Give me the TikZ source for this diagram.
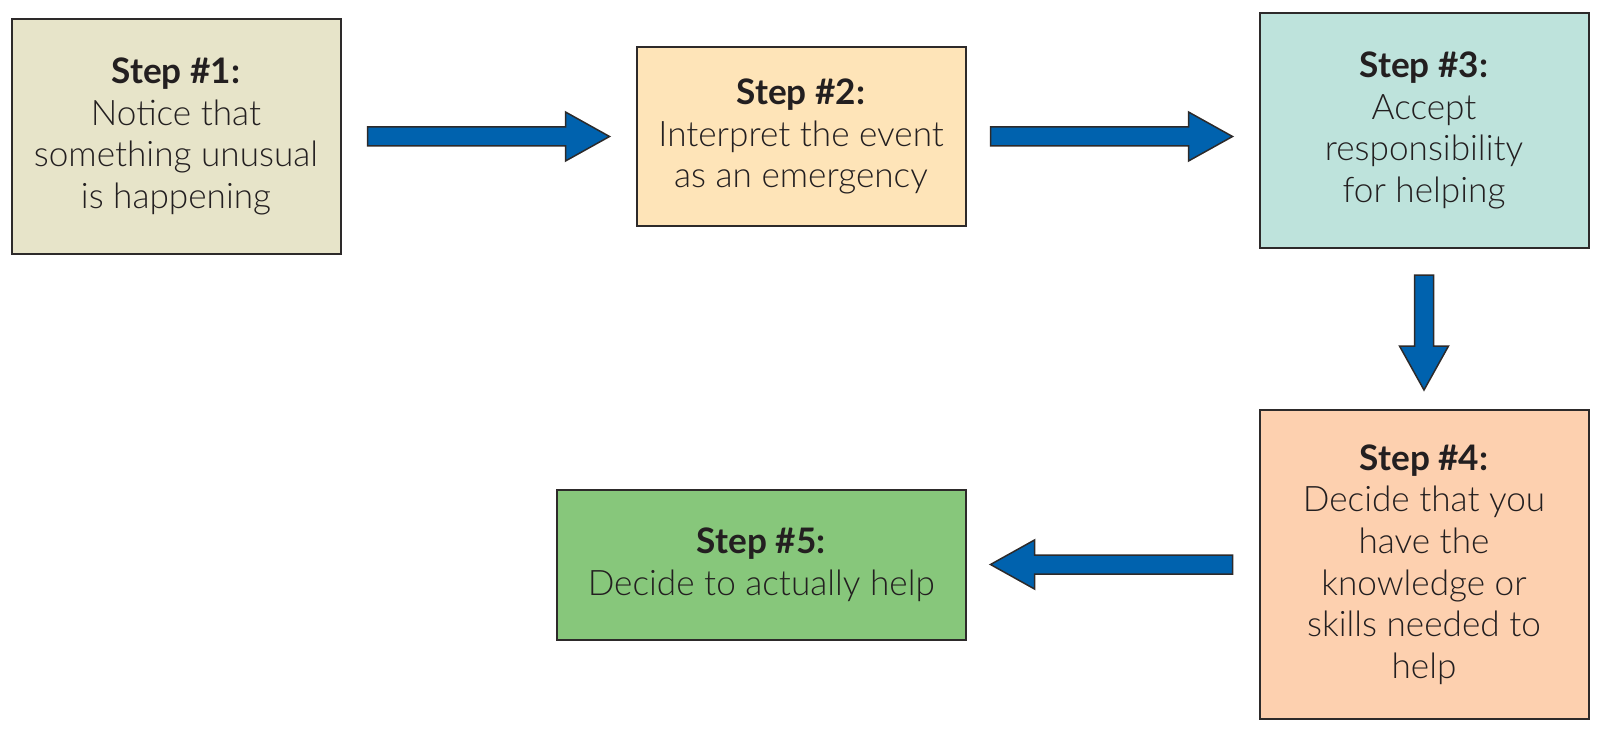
\documentclass[tikz,border=0pt]{standalone}
\usepackage{fontspec}
\setmainfont{Lato Light}[BoldFont={Lato Bold}]
\usepackage{tikz}
\usetikzlibrary{positioning, calc}
\definecolor{noticebg}{RGB}{231, 228, 201}
\definecolor{interpretbg}{RGB}{254, 228, 184}
\definecolor{acceptbg}{RGB}{190, 227, 220}
\definecolor{knowbg}{RGB}{253, 208, 175}
\definecolor{helpbg}{RGB}{135, 199, 123}
\definecolor{arrowblue}{RGB}{0, 98, 174}
\definecolor{boxborder}{RGB}{45, 42, 42}
\definecolor{textdark}{RGB}{35, 31, 32}
\tikzset{
  font=\fontsize{20}{23.7}\selectfont,
  baseblock/.style={
    rectangle, draw=boxborder, line width=0.4mm, text=textdark,
    minimum width=65.8mm, inner sep=0pt, align=center
  },
  noticeblock/.style={baseblock, fill=noticebg},
  interpretblock/.style={baseblock, fill=interpretbg},
  acceptblock/.style={baseblock, fill=acceptbg},
  knowblock/.style={baseblock, fill=knowbg},
  helpblock/.style={baseblock, fill=helpbg},
  flowarrow/.style={
    draw=boxborder, fill=arrowblue, line width=0.3mm, line join=miter,
    to path={
      ($(\tikztostart)!1.9mm!90:(\tikztotarget)$)
      -- ($(\tikztotarget)!8.8mm!(\tikztostart)!1.9mm!-90:(\tikztostart)$)
      -- ($(\tikztotarget)!8.8mm!(\tikztostart)!4.9mm!-90:(\tikztostart)$)
      -- (\tikztotarget)
      -- ($(\tikztotarget)!8.8mm!(\tikztostart)!4.9mm!90:(\tikztostart)$)
      -- ($(\tikztotarget)!8.8mm!(\tikztostart)!1.9mm!90:(\tikztostart)$)
      -- ($(\tikztostart)!1.9mm!-90:(\tikztotarget)$)
      -- cycle
    }
  }
}

\begin{document}
\begin{tikzpicture}
  \useasboundingbox (0,0) rectangle (320mm,-145.8mm);

  % Row 1: first three steps
  \node[noticeblock, minimum height=47mm] (s1) at (35.2mm,-27.3mm) {
    \textbf{Step \#1:}\\
    Notice that\\
    something unusual\\
    is happening
  };

  \node[interpretblock, right=58.8mm of s1, minimum height=35.6mm] (s2) {
    \textbf{Step \#2:}\\
    Interpret the event\\
    as an emergency
  };

  \node[acceptblock, right=58.4mm of s2, yshift=1.2mm, minimum height=47mm] (s3) {
    \textbf{Step \#3:}\\
    Accept\\
    responsibility\\
    for helping
  };

  % Row 2: last two steps, running back to the left
  \node[knowblock, below=32mm of s3, minimum height=61.8mm] (s4) {
    \textbf{Step \#4:}\\
    Decide that you\\
    have the\\
    knowledge or\\
    skills needed to\\
    help
  };

  \node[helpblock, left=58.4mm of s4, minimum width=81.7mm, minimum height=30mm] (s5) {
    \textbf{Step \#5:}\\
    Decide to actually help
  };

  % Block arrows between the steps
  \coordinate (a23end) at (s2.east -| s3.west);
  \draw[flowarrow] ([xshift=5.2mm]s1.east) to ([xshift=-5.2mm]s2.west);
  \draw[flowarrow] ([xshift=4.8mm]s2.east) to ([xshift=-5.2mm]a23end);
  \draw[flowarrow] ([yshift=-5.2mm]s3.south) to ([yshift=3.8mm]s4.north);
  \draw[flowarrow] ([xshift=-5.2mm]s4.west) to ([xshift=4.8mm]s5.east);
\end{tikzpicture}
\end{document}
